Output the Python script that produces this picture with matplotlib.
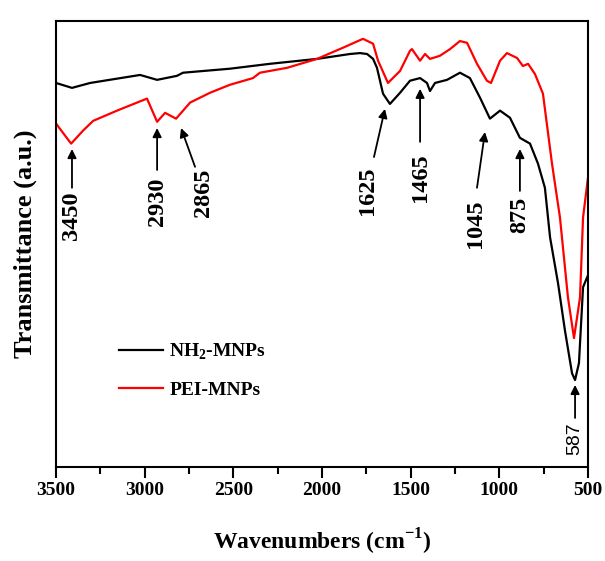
import matplotlib
matplotlib.use('Agg')
import matplotlib.pyplot as plt
from matplotlib.ticker import MultipleLocator

plt.rcParams['font.family'] = 'Liberation Serif'
plt.rcParams['font.weight'] = 'bold'
plt.rcParams['mathtext.fontset'] = 'custom'
plt.rcParams['mathtext.rm'] = 'Liberation Serif:bold'
plt.rcParams['mathtext.bf'] = 'Liberation Serif:bold'

# FTIR spectra (wavenumber in cm-1, transmittance in a.u.)
nh2_wn = [3500, 3410, 3308, 3026, 2930, 2818, 2784, 2519, 2293, 2028, 1842, 1786,
          1746, 1712, 1690, 1656, 1617, 1560, 1504, 1447, 1408, 1391, 1363, 1295,
          1222, 1166, 1109, 1053, 996, 940, 884, 827, 782, 743, 714, 669, 630,
          590, 573, 551, 528, 500]
nh2_t = [86.1, 85.0, 86.1, 87.9, 86.8, 87.7, 88.4, 89.3, 90.4, 91.5, 92.6, 92.8,
         92.6, 91.5, 89.5, 83.7, 81.4, 83.9, 86.6, 87.2, 86.1, 84.3, 86.1, 86.8,
         88.4, 87.2, 82.8, 78.1, 79.9, 78.3, 73.8, 72.5, 68.0, 62.6, 51.5, 41.2,
         30.6, 21.0, 19.5, 23.3, 40.3, 43.0]

pei_wn = [3500, 3415, 3348, 3291, 3156, 2987, 2930, 2885, 2823, 2744, 2632, 2519,
          2389, 2350, 2197, 2028, 1882, 1769, 1712, 1684, 1628, 1560, 1504, 1493,
          1447, 1419, 1391, 1335, 1278, 1222, 1182, 1126, 1070, 1047, 996, 957,
          900, 867, 838, 799, 754, 703, 658, 613, 579, 545, 528, 500]
pei_t = [77.0, 72.5, 75.4, 77.6, 79.9, 82.6, 77.4, 79.4, 78.1, 81.7, 83.9, 85.7,
         87.2, 88.4, 89.5, 91.5, 94.0, 96.0, 94.9, 91.1, 86.1, 88.8, 93.3, 93.7,
         91.1, 92.6, 91.5, 92.2, 93.7, 95.5, 95.1, 90.4, 86.6, 86.1, 91.1, 92.8,
         91.7, 89.9, 90.4, 88.1, 83.7, 68.0, 55.9, 38.0, 28.9, 38.0, 55.9, 64.9]

peak_labels = ['3450', '2930', '2865', '1625', '1465', '1045', '875', '587']

fig = plt.figure(figsize=(6.05, 5.61), dpi=100)
ax = fig.add_axes([0.0926, 0.1676, 0.8793, 0.795])

ax.plot(nh2_wn, nh2_t, color='black', lw=1.6, label='NH$_2$-MNPs')
ax.plot(pei_wn, pei_t, color='red', lw=1.6, label='PEI-MNPs')

# arrow head (x, y), arrow tail (x, y), text (x, top y)
ann = [
    ((3410, 71.3), (3410, 62.6), (3410, 61.7)),
    ((2930, 76.0), (2930, 66.6), (2930, 64.8)),
    ((2795, 76.0), (2716, 67.3), (2671, 67.0)),
    ((1645, 80.3), (1707, 69.5), (1746, 67.3)),
    ((1447, 84.8), (1447, 72.9), (1447, 70.4)),
    ((1081, 75.1), (1126, 62.6), (1132, 59.9)),
    ((884, 71.3), (884, 61.9), (884, 60.5)),
    ((573, 18.4), (573, 11.0), (573, 9.9)),
]
for lab, (head, tail, txt) in zip(peak_labels, ann):
    ax.annotate('', xy=head, xytext=tail,
                arrowprops=dict(arrowstyle='-|>', color='black', lw=1.3,
                                mutation_scale=13, shrinkA=0, shrinkB=0))
    if lab == '587':
        ax.text(txt[0], txt[1], lab, rotation=90, ha='center', va='top',
                fontsize=14, family='Liberation Sans', fontweight='normal')
    else:
        ax.text(txt[0], txt[1], lab, rotation=90, ha='center', va='top',
                fontsize=17.5, fontweight='bold')

ax.set_xlim(3500, 500)
ax.set_ylim(0, 100)
ax.xaxis.set_major_locator(MultipleLocator(500))
ax.xaxis.set_minor_locator(MultipleLocator(250))
ax.tick_params(axis='x', which='major', direction='out', length=8, width=1.5,
               labelsize=14, pad=3)
ax.tick_params(axis='x', which='minor', direction='out', length=5, width=1.5)
ax.set_yticks([])
for s in ax.spines.values():
    s.set_linewidth(1.5)

ax.set_xlabel('Wavenumbers (cm$^{-1}$)', fontsize=17, fontweight='bold', labelpad=20)
ax.set_ylabel('Transmittance (a.u.)', fontsize=19, fontweight='bold', labelpad=14)

ax.legend(loc='upper left', bbox_to_anchor=(0.085, 0.32), frameon=False,
          handlelength=2.3, handletextpad=0.3, labelspacing=1.0,
          prop={'weight': 'bold', 'size': 14})

fig.savefig('out.png', dpi=100)
